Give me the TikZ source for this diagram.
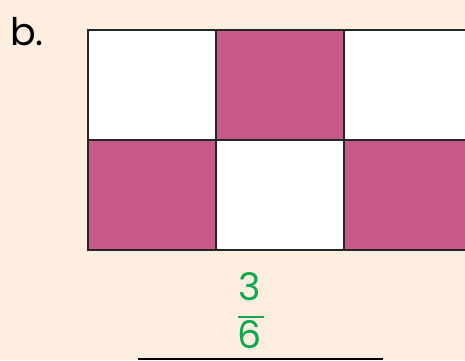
\documentclass[tikz,border=0pt]{standalone}
\usepackage{fontspec}
\setmainfont{Poppins}
\definecolor{bg}{HTML}{FDEEE0}
\definecolor{pinkc}{HTML}{C85A8A}
\definecolor{greenc}{HTML}{12A84F}
\begin{document}
\begin{tikzpicture}[x=1pt,y=-1pt,
  cell/.style={draw=black!85,line width=1.4pt},
  num/.style={text=greenc,font=\fontsize{38}{38}\selectfont,inner sep=0pt}]
\fill[bg] (0,0) rectangle (465,360);
\useasboundingbox (0,0) rectangle (465,360);
\node[anchor=base west,inner sep=0pt,font=\fontsize{38}{38}\selectfont] (lbl) at (10,45) {b.};
% grid
\filldraw[cell,fill=white] (88,30) rectangle (216,140);
\filldraw[cell,fill=pinkc] (216,30) rectangle (344,140);
\filldraw[cell,fill=white] (344,30) rectangle (472,140);
\filldraw[cell,fill=pinkc] (88,140) rectangle (216,250);
\filldraw[cell,fill=white] (216,140) rectangle (344,250);
\filldraw[cell,fill=pinkc] (344,140) rectangle (472,250);
% fraction
\node[num,anchor=base] (n) at (250,300) {3};
\node[num,anchor=base] (d) at (250,348) {6};
\draw[greenc,line width=1.2pt] (238,317) -- (264,317);
\draw[black,line width=1.2pt] (138,359) -- (383,359);
\end{tikzpicture}
\end{document}
